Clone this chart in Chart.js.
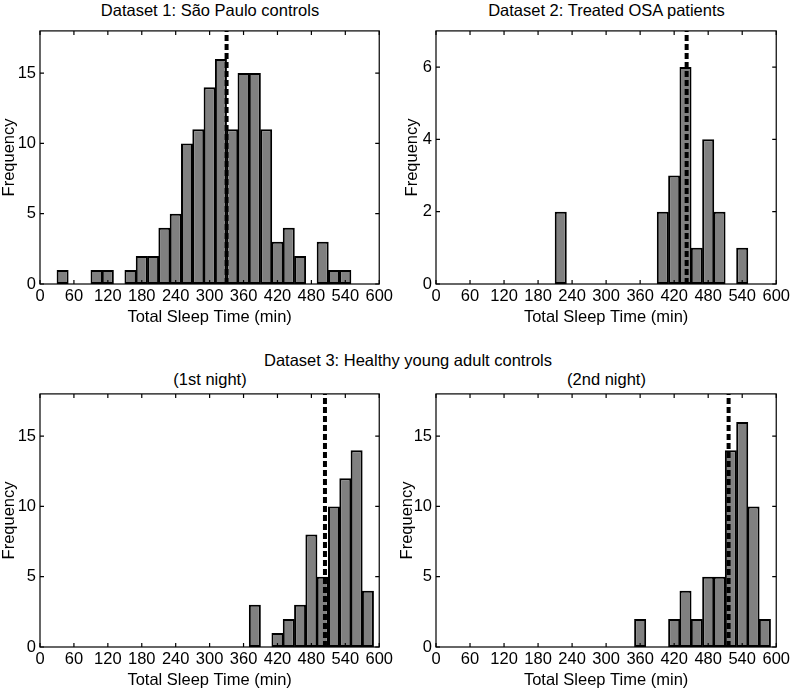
<!DOCTYPE html>
<html>
<head>
<meta charset="utf-8">
<script src="https://cdn.jsdelivr.net/npm/chart.js@4/dist/chart.umd.min.js"></script>
<style>
  html, body { margin: 0; padding: 0; background: #fff; }
  body { position: relative; width: 794px; height: 693px; overflow: hidden; font-family: 'Liberation Sans', Arial, sans-serif; }
  .ttl { position: absolute; text-align: center; font-size: 16.5px; line-height: 20px; white-space: nowrap; color: #000; }
  .pane { position: absolute; }
  canvas { display: block; }
</style>
</head>
<body>
<div class="ttl" id="t1"></div>
<div class="ttl" id="t2"></div>
<div class="ttl" id="t3"></div>
<div class="ttl" id="t3a"></div>
<div class="ttl" id="t3b"></div>
<div class="pane" id="p1"><canvas id="c1"></canvas></div>
<div class="pane" id="p2"><canvas id="c2"></canvas></div>
<div class="pane" id="p3"><canvas id="c3"></canvas></div>
<div class="pane" id="p4"><canvas id="c4"></canvas></div>
<script>
// ---------------- DATA ----------------
const binCenters = [40, 60, 80, 100, 120, 140, 160, 180, 200, 220, 240, 260, 280, 300,
                    320, 340, 360, 380, 400, 420, 440, 460, 480, 500, 520, 540, 560, 580];
const saoPauloCounts = [1, 0, 0, 1, 1, 0, 1, 2, 2, 4, 5, 10, 11, 14,
                        16, 11, 15, 15, 11, 3, 4, 2, 0, 3, 1, 1, 0, 0];
const osaCounts      = [0, 0, 0, 0, 0, 0, 0, 0, 0, 2, 0, 0, 0, 0,
                        0, 0, 0, 0, 2, 3, 6, 1, 4, 2, 0, 1, 0, 0];
const night1Counts   = [0, 0, 0, 0, 0, 0, 0, 0, 0, 0, 0, 0, 0, 0,
                        0, 0, 0, 3, 0, 1, 2, 3, 8, 5, 10, 12, 14, 4];
const night2Counts   = [0, 0, 0, 0, 0, 0, 0, 0, 0, 0, 0, 0, 0, 0,
                        0, 0, 2, 0, 0, 2, 4, 2, 5, 5, 14, 16, 10, 2];
const medianValues = [330, 442, 504, 516];
const xTickValues = [0, 60, 120, 180, 240, 300, 360, 420, 480, 540, 600];
const yMaxValues = [18, 7, 18, 18];
const yTickSteps = [5, 2, 5, 5];
const titleTexts = ['Dataset 1: São Paulo controls', 'Dataset 2: Treated OSA patients',
                    'Dataset 3: Healthy young adult controls', '(1st night)', '(2nd night)'];
const xAxisLabel = 'Total Sleep Time (min)';
const yAxisLabel = 'Frequency';

// ---------------- LAYOUT ----------------
function placeTitle(id, text, centerX, top, width) {
  const el = document.getElementById(id);
  el.textContent = text;
  el.style.left = (centerX - width / 2) + 'px';
  el.style.width = width + 'px';
  el.style.top = top + 'px';
}
placeTitle('t1', titleTexts[0], 210, 0, 320);
placeTitle('t2', titleTexts[1], 606.5, 0, 320);
placeTitle('t3', titleTexts[2], 408, 350, 400);
placeTitle('t3a', titleTexts[3], 210, 369, 200);
placeTitle('t3b', titleTexts[4], 606.5, 369, 200);

const panes = [
  { id: 'p1', canvas: 'c1', left: 0,   top: 17,  w: 396, h: 315, yw: 40 },
  { id: 'p2', canvas: 'c2', left: 403, top: 17,  w: 390, h: 315, yw: 33 },
  { id: 'p3', canvas: 'c3', left: 0,   top: 380, w: 396, h: 315, yw: 40 },
  { id: 'p4', canvas: 'c4', left: 398, top: 380, w: 395, h: 315, yw: 38 }
];
const countsList = [saoPauloCounts, osaCounts, night1Counts, night2Counts];

Chart.defaults.font.family = "'Liberation Sans', Arial, sans-serif";
Chart.defaults.color = '#000';

const framePlugin = {
  id: 'frame',
  afterDatasetsDraw(chart) {
    const { ctx, chartArea: a, scales } = chart;
    const x = scales.x, y = scales.y;
    ctx.save();
    ctx.strokeStyle = '#000';
    ctx.lineWidth = 1.2;
    ctx.strokeRect(a.left, a.top, a.right - a.left, a.bottom - a.top);
    const tl = 4;
    ctx.beginPath();
    x.ticks.forEach(t => {
      const px = x.getPixelForValue(t.value);
      ctx.moveTo(px, a.bottom); ctx.lineTo(px, a.bottom - tl);
      ctx.moveTo(px, a.top); ctx.lineTo(px, a.top + tl);
    });
    y.ticks.forEach(t => {
      const py = y.getPixelForValue(t.value);
      ctx.moveTo(a.left, py); ctx.lineTo(a.left + tl, py);
      ctx.moveTo(a.right, py); ctx.lineTo(a.right - tl, py);
    });
    ctx.stroke();
    ctx.restore();
  }
};

panes.forEach((p, i) => {
  const div = document.getElementById(p.id);
  div.style.left = p.left + 'px';
  div.style.top = p.top + 'px';
  div.style.width = p.w + 'px';
  div.style.height = p.h + 'px';
  const cv = document.getElementById(p.canvas);
  cv.width = p.w; cv.height = p.h;
  cv.style.width = p.w + 'px'; cv.style.height = p.h + 'px';

  const counts = countsList[i];
  const barData = binCenters.map((c, k) => ({ x: c, y: counts[k] === 0 ? null : counts[k] }));
  const yMax = yMaxValues[i];
  const step = yTickSteps[i];

  new Chart(cv, {
    type: 'bar',
    data: {
      datasets: [
        {
          type: 'line',
          data: [{ x: medianValues[i], y: 0 }, { x: medianValues[i], y: yMax }],
          borderColor: '#000',
          borderWidth: 4,
          borderDash: [6, 3],
          pointRadius: 0,
          fill: false,
          order: 0
        },
        {
          type: 'bar',
          data: barData,
          backgroundColor: '#808080',
          borderColor: '#000',
          borderWidth: 2,
          borderSkipped: false,
          barPercentage: 1.06,
          categoryPercentage: 1,
          order: 1
        }
      ]
    },
    options: {
      responsive: false,
      animation: false,
      devicePixelRatio: 1,
      layout: { padding: { top: 12, right: 16, left: 0, bottom: 0 } },
      plugins: { legend: { display: false }, tooltip: { enabled: false }, title: { display: false } },
      scales: {
        x: {
          type: 'linear',
          min: 0, max: 600,
          offset: false,
          afterBuildTicks: (s) => { s.ticks = xTickValues.map(v => ({ value: v })); },
          afterFit: (s) => { s.height = 48; },
          ticks: { font: { size: 16.5 }, padding: 3, maxRotation: 0, autoSkip: false, color: '#000' },
          grid: { display: false, drawTicks: false },
          border: { display: false },
          title: { display: true, text: xAxisLabel, font: { size: 16.5 }, padding: { top: 0, bottom: 4.5 }, color: '#000' }
        },
        y: {
          type: 'linear',
          min: 0, max: yMax,
          afterBuildTicks: (s) => {
            const arr = [];
            for (let v = 0; v <= yMax; v += step) arr.push({ value: v });
            s.ticks = arr;
          },
          afterFit: (s) => { s.width = p.yw; },
          ticks: { font: { size: 16.5 }, padding: 4, color: '#000' },
          grid: { display: false, drawTicks: false },
          border: { display: false },
          title: { display: true, text: yAxisLabel, font: { size: 16.5 }, padding: { top: 0, bottom: 0 }, color: '#000' }
        }
      }
    },
    plugins: [framePlugin]
  });
});
</script>
</body>
</html>
